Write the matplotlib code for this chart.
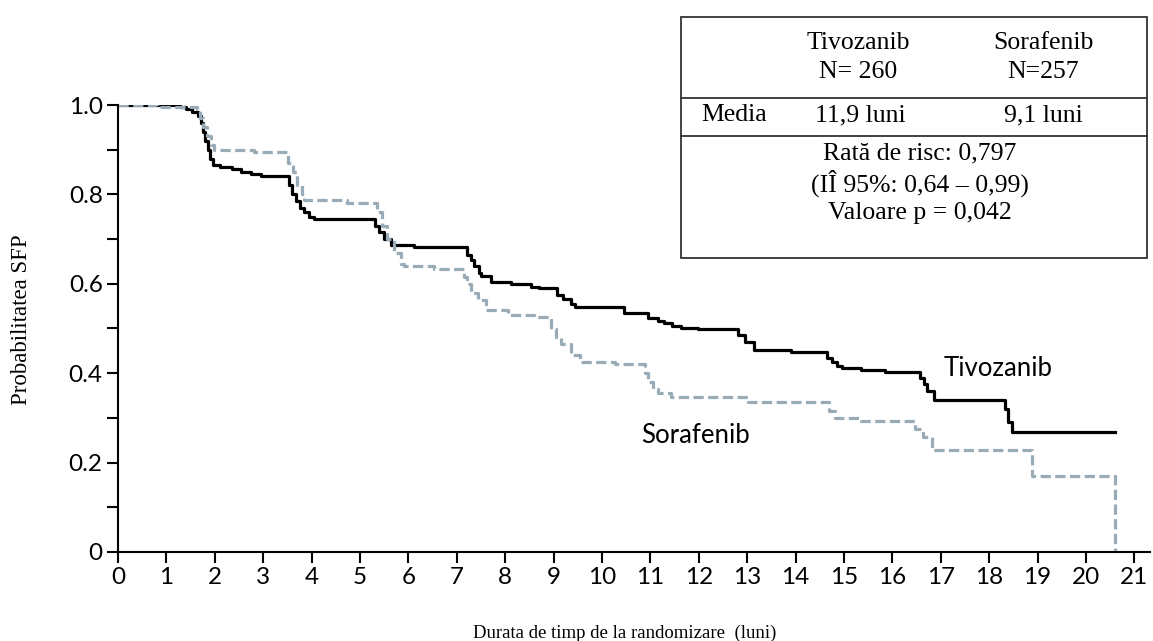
import matplotlib
matplotlib.use("Agg")
import matplotlib.pyplot as plt
from matplotlib.patches import Rectangle
from matplotlib.lines import Line2D
from matplotlib.ticker import MultipleLocator

# Kaplan-Meier steps (time in months, survival after the step)
tivo_t = [0, 1.28, 1.40, 1.53, 1.65, 1.72, 1.76, 1.80, 1.85, 1.90, 1.97, 2.10, 2.35, 2.55,
          2.75, 2.95, 3.53, 3.60, 3.68, 3.77, 3.85, 3.95, 4.04, 5.32, 5.40, 5.50, 5.64,
          6.11, 7.22, 7.29, 7.35, 7.45, 7.50, 7.70, 8.12, 8.53, 8.70, 9.08, 9.20, 9.35,
          9.45, 10.46, 10.95, 11.15, 11.29, 11.45, 11.64, 11.98, 12.81, 12.95, 13.15,
          13.91, 14.64, 14.75, 14.85, 14.95, 15.35, 15.84, 16.56, 16.65, 16.72, 16.85,
          18.33, 18.38, 18.47, 20.60]
tivo_s = [1.0, 0.995, 0.99, 0.985, 0.975, 0.96, 0.94, 0.92, 0.90, 0.88, 0.866, 0.862,
          0.857, 0.850, 0.845, 0.841, 0.82, 0.80, 0.785, 0.77, 0.76, 0.75, 0.745, 0.73,
          0.715, 0.70, 0.687, 0.682, 0.665, 0.653, 0.64, 0.625, 0.617, 0.605, 0.599,
          0.592, 0.590, 0.575, 0.565, 0.555, 0.548, 0.534, 0.523, 0.517, 0.512, 0.506,
          0.501, 0.498, 0.485, 0.47, 0.453, 0.447, 0.435, 0.425, 0.415, 0.411, 0.407,
          0.402, 0.39, 0.375, 0.36, 0.340, 0.32, 0.29, 0.269, 0.269]

sora_t = [0, 0.80, 1.63, 1.70, 1.75, 1.84, 1.92, 1.98, 2.80, 3.52, 3.62, 3.70, 3.80, 3.85,
          4.73, 5.36, 5.45, 5.56, 5.70, 5.85, 5.91, 6.53, 7.15, 7.22, 7.30, 7.43, 7.60,
          8.05, 8.60, 8.94, 9.05, 9.15, 9.36, 9.55, 10.26, 10.88, 10.95, 11.05, 11.15,
          11.43, 13.02, 14.70, 14.81, 15.36, 16.47, 16.64, 16.81, 18.88, 20.59]
sora_s = [1.0, 0.995, 0.99, 0.97, 0.95, 0.93, 0.91, 0.899, 0.895, 0.87, 0.85, 0.82, 0.80,
          0.787, 0.780, 0.76, 0.73, 0.70, 0.67, 0.645, 0.640, 0.632, 0.615, 0.60, 0.58,
          0.563, 0.541, 0.530, 0.525, 0.50, 0.48, 0.465, 0.44, 0.426, 0.421, 0.40, 0.38,
          0.365, 0.355, 0.347, 0.336, 0.315, 0.299, 0.292, 0.275, 0.257, 0.228, 0.170,
          0.0]

x_ticks = list(range(0, 22))
y_ticks = [0, 0.2, 0.4, 0.6, 0.8, 1.0]
y_labels = ["0", "0.2", "0.4", "0.6", "0.8", "1.0"]

W, H = 1153, 641
fig = plt.figure(figsize=(W / 100, H / 100), dpi=100)
ax = fig.add_axes([118 / W, 1 - 552 / H, (1150 - 118) / W, (552 - 105) / H])

ax.step(tivo_t, tivo_s, where="post", color="black", lw=2.3)
ax.step(sora_t, sora_s, where="post", color="#99abb6", lw=2.3, dashes=(3.2, 1.4))

ax.set_xlim(0, (1150 - 118) / 48.4)
ax.set_ylim(0, 1.0)
ax.set_xticks(x_ticks)
ax.set_yticks(y_ticks)
ax.set_yticklabels(y_labels)
ax.yaxis.set_minor_locator(MultipleLocator(0.1))
for s in ["top", "right"]:
    ax.spines[s].set_visible(False)
for s in ["left", "bottom"]:
    ax.spines[s].set_linewidth(1.5)
ax.tick_params(axis="both", which="both", direction="out", width=1.5, labelsize=17.5,
               length=8, pad=3)
ax.tick_params(axis="x", pad=3)
for lab in ax.get_xticklabels() + ax.get_yticklabels():
    lab.set_family("Lato")

ax.text(17.05, 0.41, "Tivozanib", fontsize=18.5, family="Lato", va="center", ha="left")
ax.text(11.94, 0.26, "Sorafenib", fontsize=18.5, family="Lato", va="center", ha="center")

fig.text(22 / W, 1 - 320 / H, "Probabilitatea SFP", rotation=90, family="Liberation Serif",
         fontsize=16.5, ha="center", va="center")
fig.text(625 / W, 1 - 633 / H, "Durata de timp de la randomizare  (luni)",
         family="Liberation Serif", fontsize=13.5, ha="center", va="center")

# table box top right
def fx(x):
    return x / W

def fy(y):
    return 1 - y / H

fig.add_artist(Rectangle((fx(681), fy(258)), fx(1147) - fx(681), fy(17) - fy(258),
                         fill=False, lw=1.3, edgecolor="#333333", transform=fig.transFigure))
for yy in [98, 136]:
    fig.add_artist(Line2D([fx(681), fx(1147)], [fy(yy), fy(yy)], lw=1.3, color="#333333",
                          transform=fig.transFigure))

tf = dict(family="Liberation Serif", fontsize=18.5, ha="center", va="center")
fig.text(fx(858), fy(43), "Tivozanib", **tf)
fig.text(fx(858), fy(72), "N= 260", **tf)
fig.text(fx(1043), fy(43), "Sorafenib", **tf)
fig.text(fx(1043), fy(72), "N=257", **tf)
fig.text(fx(734), fy(115), "Media", **tf)
fig.text(fx(860), fy(115), "11,9 luni", **tf)
fig.text(fx(1043), fy(115), "9,1 luni", **tf)
fig.text(fx(920), fy(153), "Rată de risc: 0,797", **tf)
fig.text(fx(920), fy(183), "(IÎ 95%: 0,64 – 0,99)", **tf)
fig.text(fx(920), fy(213), "Valoare p = 0,042", **tf)

fig.savefig("out.png", dpi=100)
